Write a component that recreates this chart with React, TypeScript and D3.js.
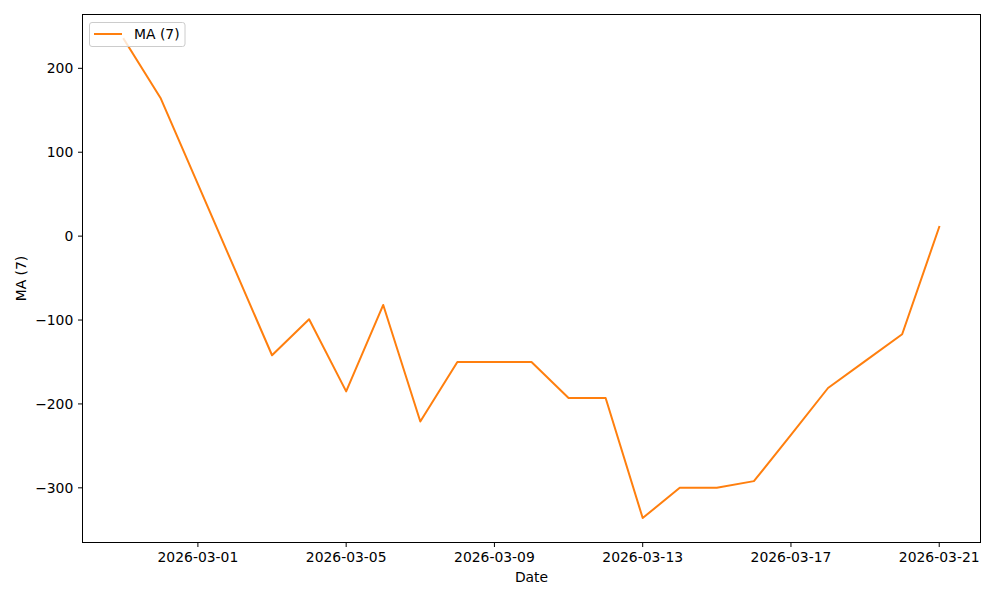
import React from "react";
import * as d3 from "d3";

const dates = [
  "2026-02-27", "2026-02-28", "2026-03-01", "2026-03-02", "2026-03-03", "2026-03-04",
  "2026-03-05", "2026-03-06", "2026-03-07", "2026-03-08", "2026-03-09", "2026-03-10",
  "2026-03-11", "2026-03-12", "2026-03-13", "2026-03-14", "2026-03-15", "2026-03-16",
  "2026-03-17", "2026-03-18", "2026-03-19", "2026-03-20", "2026-03-21",
];
const maValues = [
  235, 164, 62, -40, -142, -99,
  -185, -82, -221, -150, -150, -150,
  -193, -193, -336, -300, -300, -292,
  -237, -181, -149, -117, 11,
];
const xTickLabels = ["2026-03-01", "2026-03-05", "2026-03-09", "2026-03-13", "2026-03-17", "2026-03-21"];
const seriesName = "MA (7)";

const W = 1000, H = 600;
const L = 83, R = 980, T = 15, B = 542;
const FONT = "DejaVu Sans, sans-serif";
const FS = 13.9;

export default function App() {
  const parse = d3.utcParse("%Y-%m-%d");
  const pts = dates.map((d, i) => ({ d: parse(d) as Date, v: maValues[i] }));
  const [x0, x1] = d3.extent(pts, (p) => p.d) as [Date, Date];
  const span = +x1 - +x0;
  const x = d3.scaleUtc().domain([new Date(+x0 - span * 0.05), new Date(+x1 + span * 0.05)]).range([L, R]);
  const [y0, y1] = d3.extent(maValues) as [number, number];
  const ys = y1 - y0;
  const y = d3.scaleLinear().domain([y0 - ys * 0.05, y1 + ys * 0.05]).range([B, T]);
  const line = d3.line<{ d: Date; v: number }>().x((p) => x(p.d)).y((p) => y(p.v));
  const yTicks = y.ticks(6);
  const xTicks = xTickLabels.map((s) => ({ s, d: parse(s) as Date }));

  return (
    <svg width={W} height={H} style={{ position: "absolute", left: 0, top: 0, background: "#fff" }} fontFamily={FONT}>
      <rect x={0} y={0} width={W} height={H} fill="#fff" />
      <path d={line(pts) || ""} fill="none" stroke="#ff7f0e" strokeWidth={2} strokeLinejoin="round" strokeLinecap="square" />
      <rect x={L - 0.5} y={T - 0.5} width={R - L + 1} height={B - T + 1} fill="none" stroke="#000" strokeWidth={1} shapeRendering="crispEdges" />
      {yTicks.map((t) => (
        <g key={t}>
          <line x1={L - 5} x2={L} y1={y(t)} y2={y(t)} stroke="#000" strokeWidth={1} />
          <text x={L - 9.7} y={y(t)} dy="0.35em" textAnchor="end" fontSize={FS} fill="#000">
            {t < 0 ? "\u2212" + Math.abs(t) : String(t)}
          </text>
        </g>
      ))}
      {xTicks.map((t) => (
        <g key={t.s}>
          <line x1={x(t.d)} x2={x(t.d)} y1={B} y2={B + 5} stroke="#000" strokeWidth={1} />
          <text x={x(t.d)} y={B + 9.7} dy="0.76em" textAnchor="middle" fontSize={FS} fill="#000">
            {t.s}
          </text>
        </g>
      ))}
      <text x={(L + R) / 2} y={582} textAnchor="middle" fontSize={FS} fill="#000">Date</text>
      <text transform={`translate(26,${(T + B) / 2}) rotate(-90)`} textAnchor="middle" fontSize={FS} fill="#000">
        {seriesName}
      </text>
      <g>
        <rect x={89.5} y={22.5} width={95.5} height={24} rx={2.5} fill="#fff" fillOpacity={0.8} stroke="#ccc" strokeWidth={1} />
        <line x1={94} x2={122} y1={34} y2={34} stroke="#ff7f0e" strokeWidth={2} />
        <text x={134} y={34} dy="0.35em" fontSize={FS} fill="#000">{seriesName}</text>
      </g>
    </svg>
  );
}
